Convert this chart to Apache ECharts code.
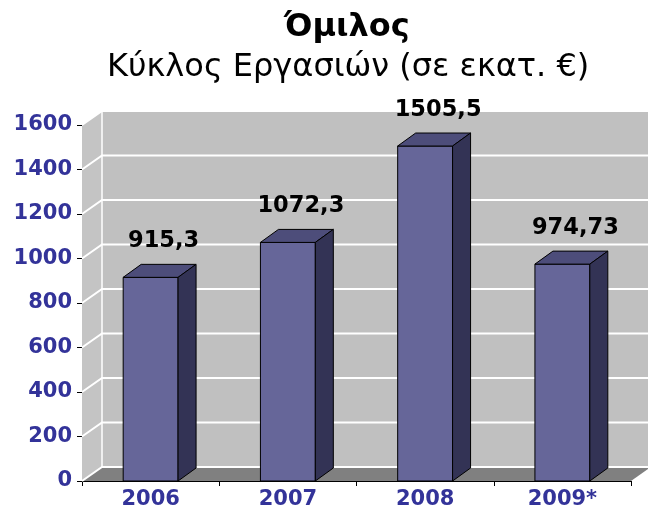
<!DOCTYPE html>
<html>
<head>
<meta charset="utf-8">
<script src="https://cdn.jsdelivr.net/npm/echarts@6/dist/echarts.min.js"></script>
<style>html,body{margin:0;padding:0;background:#fff}#chart{width:648px;height:513px}</style>
</head>
<body>
<div id="chart"></div>
<script>
// group turnover, million EUR
var years = ['2006', '2007', '2008', '2009*'];
var revenue = [915.3, 1072.3, 1505.5, 974.73];
var yTicks = [0, 200, 400, 600, 800, 1000, 1200, 1400, 1600];
var titleText = 'Όμιλος';
var subtitleText = 'Κύκλος Εργασιών (σε εκατ. €)';

var FONT = '"DejaVu Sans", Verdana, sans-serif';
var WALL_DX = 20, WALL_DY = -14;   // depth of the back wall
var BAR_DX = 18, BAR_DY = -13;     // depth of each bar

// grey walls + floor of the excel-like 3d box, gridlines on the back wall
function renderWalls(params, api) {
  var cs = params.coordSys;
  var x0 = cs.x, x1 = cs.x + cs.width, yt = cs.y, yb = cs.y + cs.height;
  var kids = [
    { type: 'polygon', shape: { points: [[x0, yb], [x0, yt], [x0 + WALL_DX, yt + WALL_DY], [x0 + WALL_DX, yb + WALL_DY]] },
      style: { fill: '#c4c4c4' } },
    { type: 'rect', shape: { x: x0 + WALL_DX, y: yt + WALL_DY, width: cs.width, height: cs.height },
      style: { fill: '#c0c0c0' } },
    { type: 'polygon', shape: { points: [[x0, yb], [x0 + WALL_DX, yb + WALL_DY], [x1 + WALL_DX, yb + WALL_DY], [x1, yb]] },
      style: { fill: '#808080' } }
  ];
  yTicks.forEach(function (v) {
    var y = api.coord([0, v])[1];
    kids.push({ type: 'polyline', shape: { points: [[x0, y], [x0 + WALL_DX, y + WALL_DY], [x1 + WALL_DX, y + WALL_DY]] },
      style: { stroke: '#ffffff', lineWidth: 2, fill: null } });
  });
  kids.push({ type: 'line', shape: { x1: x0 + WALL_DX, y1: yt + WALL_DY, x2: x0 + WALL_DX, y2: yb + WALL_DY },
    style: { stroke: '#ffffff', lineWidth: 1.5 } });
  return { type: 'group', silent: true, children: kids };
}

function renderBar(params, api) {
  var i = api.value(0), v = api.value(1);
  var base = api.coord([i, 0]);
  var top = api.coord([i, v]);
  var w = api.size([1, 0])[0] * 0.4;
  var xl = base[0] - w / 2, xr = base[0] + w / 2;
  var edge = { stroke: '#000000', lineWidth: 1, lineJoin: 'round' };
  return {
    type: 'group',
    children: [
      { type: 'rect', shape: { x: xl, y: top[1], width: w, height: base[1] - top[1] },
        style: Object.assign({ fill: '#666699' }, edge) },
      { type: 'polygon', shape: { points: [[xl, top[1]], [xl + BAR_DX, top[1] + BAR_DY], [xr + BAR_DX, top[1] + BAR_DY], [xr, top[1]]] },
        style: Object.assign({ fill: '#4d4d7a' }, edge) },
      { type: 'polygon', shape: { points: [[xr, top[1]], [xr + BAR_DX, top[1] + BAR_DY], [xr + BAR_DX, base[1] + BAR_DY], [xr, base[1]]] },
        style: Object.assign({ fill: '#333355' }, edge) },
      { type: 'text', x: base[0] + BAR_DX / 2 + 4, y: top[1] + BAR_DY - 23,
        style: { text: String(v).replace('.', ','), fill: '#000000', font: 'bold 22.5px ' + FONT,
          align: 'center', verticalAlign: 'middle' } }
    ]
  };
}

var chart = echarts.init(document.getElementById('chart'));
chart.setOption({
  animation: false,
  backgroundColor: '#ffffff',
  title: [
    { text: titleText, left: 284, top: 12, padding: 0,
      textStyle: { fontFamily: FONT, fontSize: 32, fontWeight: 'bold', color: '#000000' } },
    { text: subtitleText, left: 107, top: 52, padding: 0,
      textStyle: { fontFamily: FONT, fontSize: 32, fontWeight: 'normal', color: '#000000' } }
  ],
  grid: { left: 82, right: 17, top: 125, bottom: 32, containLabel: false },
  xAxis: {
    type: 'category',
    data: years,
    axisLine: { lineStyle: { color: '#000000', width: 1 } },
    axisTick: { show: true, length: 5, lineStyle: { color: '#000000' } },
    axisLabel: { color: '#333399', fontFamily: FONT, fontSize: 21, fontWeight: 'bold', margin: 8 },
    splitLine: { show: false }
  },
  yAxis: {
    type: 'value',
    min: 0, max: 1600, interval: 200,
    axisLine: { show: true, lineStyle: { color: '#000000', width: 1 } },
    axisTick: { show: true, length: 5, lineStyle: { color: '#000000' } },
    axisLabel: { color: '#333399', fontFamily: FONT, fontSize: 21, fontWeight: 'bold', margin: 10,
      padding: [0, 0, 6, 0], formatter: function (v) { return String(v); } },
    splitLine: { show: false }
  },
  series: [
    { type: 'custom', name: 'walls', renderItem: renderWalls, data: [[0, 0]], z: 1, silent: true, clip: false },
    { type: 'custom', name: 'Κύκλος Εργασιών', renderItem: renderBar, z: 2, clip: false,
      data: years.map(function (y, i) { return [i, revenue[i]]; }) }
  ]
});
</script>
</body>
</html>
